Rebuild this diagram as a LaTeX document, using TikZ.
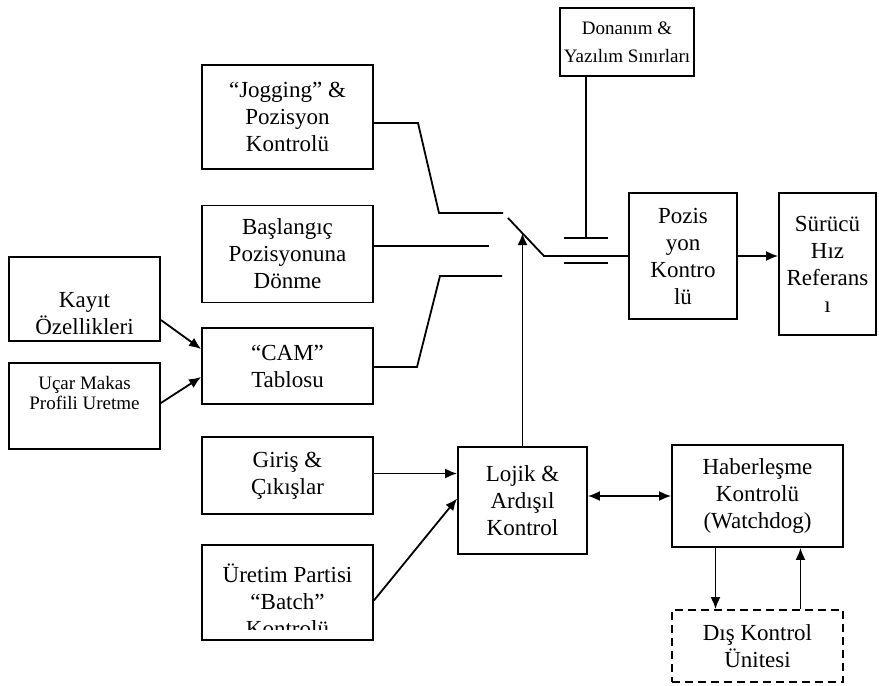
\documentclass[tikz,border=0pt]{standalone}
\usepackage{fontspec}
\setmainfont{Liberation Serif}
\usetikzlibrary{arrows.meta,calc}

\tikzset{
  blok/.style={draw, line width=0.9pt, align=center, inner sep=0pt,
    font=\fontsize{11.5}{13.5}\selectfont},
  boyut/.style 2 args={minimum width=#1*0.5pt, minimum height=#2*0.5pt},
  kucuk yazi/.style={align=center, font=\fontsize{9.5}{10}\selectfont},
  hat/.style={line width=0.9pt},
  ok/.style={hat, -{Latex[length=6pt,width=5pt]}},
  ciftok/.style={hat, {Latex[length=6pt,width=5pt]}-{Latex[length=6pt,width=5pt]}}
}

\begin{document}
\begin{tikzpicture}[x=0.5pt,y=-0.5pt]
\useasboundingbox (0,0) rectangle (879,686);

% bloklar
\node[blok, boyut={134}{68}, font=\fontsize{9.5}{14}\selectfont] (donanim) at (627,42) {Donanım \&\\Yazılım Sınırları};
\node[blok, boyut={171}{104}] (jog) at (287.5,117) {“Jogging” \&\\Pozisyon\\Kontrolü};
\node[blok, boyut={171}{97}] (basla) at (287.5,254) {Başlangıç\\Pozisyonuna\\Dönme};
\node[blok, boyut={171}{76}] (cam) at (287.5,366) {“CAM”\\Tablosu};
\node[blok, boyut={151}{84}, label={[blok, draw=none, yshift=-7.5pt]center:Kayıt\\Özellikleri}] (kayit) at (84.5,299) {};
\node[blok, boyut={151}{86}, label={[kucuk yazi, yshift=6.5pt]center:Uçar Makas\\Profili Uretme}] (ucar) at (84.5,406) {};
\node[blok, boyut={171}{77}] (giris) at (287.5,475.5) {Giriş \&\\Çıkışlar};
\node[blok, boyut={171}{95}] (uretim) at (287.5,592.5) {};
\begin{scope}
  \clip (uretim.north west) rectangle ($(uretim.east)+(0,37)$);
  \node[blok, draw=none] (uretimyazi) at (287.5,600) {Üretim Partisi\\“Batch”\\Kontrolü};
\end{scope}
\node[blok, boyut={129}{107}] (lojik) at (522.5,500.5) {Lojik \&\\Ardışıl\\Kontrol};
\node[blok, boyut={171}{102}] (haber) at (757.5,496) {Haberleşme\\Kontrolü\\(Watchdog)};
\node[blok, boyut={171}{72}, dash pattern=on 4pt off 2.5pt] (dis) at (757.5,646) {Dış Kontrol\\Ünitesi};
\node[blok, boyut={108}{126}] (poz) at (683,256) {Pozis\\yon\\Kontro\\lü};
\node[blok, boyut={97}{142}] (surucu) at (827.5,264) {Sürücü\\Hız\\Referans\\ı};

% secici anahtar
\coordinate (j1) at (418,123);
\coordinate (j2) at (439,213);
\coordinate (j3) at (503,213);
\draw[hat] ($(jog.east)+(0,6)$) -- (j1) -- (j2) -- (j3);
\coordinate (b1) at (489,246);
\draw[hat] (basla.east |- b1) -- (b1);
\coordinate (c1) at (417,367);
\coordinate (c2) at (440,276);
\coordinate (c3) at (502,276);
\draw[hat] (cam.east |- c1) -- (c1) -- (c2) -- (c3);
\coordinate (bicak) at (508,218);
\coordinate (dip) at (544,256);
\draw[hat] (bicak) -- (dip) -- (dip -| poz.west);

% sinir plakalari
\coordinate (ust) at (586,238);
\coordinate (alt) at (586,263);
\draw[hat] ($(ust)+(-22,0)$) -- ($(ust)+(22,0)$);
\draw[hat] ($(alt)+(-22,0)$) -- ($(alt)+(22,0)$);
\draw[hat] (donanim.south -| ust) -- (ust);

% oklar
\coordinate (uc) at (523,233);
\draw[ok] (lojik.north) -- (lojik.north |- uc);
\draw[ok] ($(kayit.east)+(0,21)$) -- ($(cam.west)+(0,-17)$);
\draw[ok] ($(ucar.east)+(0,-3)$) -- ($(cam.west)+(0,11)$);
\draw[ok] ($(giris.east)+(0,-2)$) -- ($(lojik.west)+(0,-27)$);
\draw[ok] ($(uretim.east)+(0,8)$) -- ($(lojik.west)+(0,-2)$);
\draw[ciftok] (lojik.east |- haber.west) -- (haber.west);
\draw[ok] ($(haber.south)+(-42,0)$) -- ($(dis.north)+(-42,0)$);
\draw[ok] ($(dis.north)+(43,0)$) -- ($(haber.south)+(43,0)$);
\draw[ok] (poz.east) -- (poz.east -| surucu.west);
\end{tikzpicture}
\end{document}
